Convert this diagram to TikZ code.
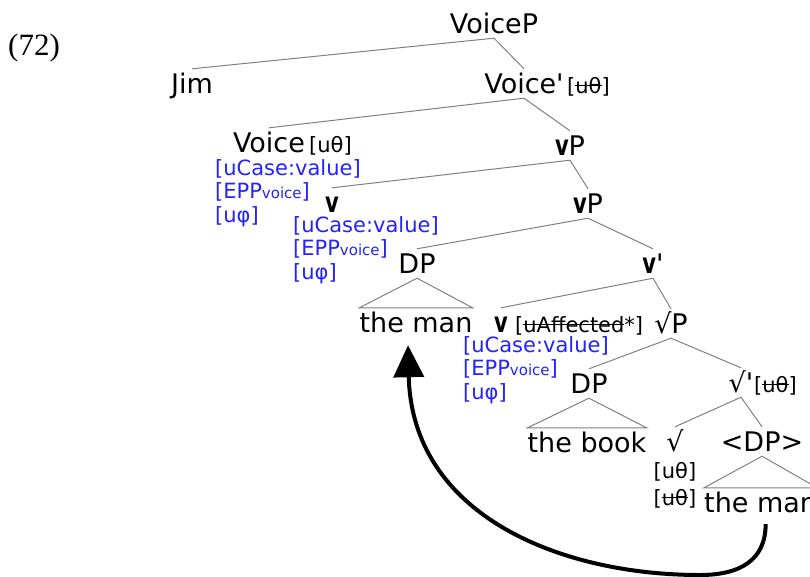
\documentclass[tikz,border=0pt]{standalone}
\usepackage{fontspec}
\usepackage{graphicx}
\setmainfont{DejaVu Sans}
\newfontfamily\exfont{Liberation Serif}
\usetikzlibrary{arrows.meta}

\definecolor{featblue}{RGB}{35,35,250}
\definecolor{branch}{RGB}{128,128,128}

% struck-through (checked) feature
\newsavebox\strikebox
\newcommand\struck[1]{\sbox\strikebox{#1}\rlap{\rule[0.33em]{\wd\strikebox}{0.07em}}\usebox\strikebox}
\newcommand\lbfont{\fontsize{27}{31}\selectfont}
\newcommand\ftfont{\fontsize{21}{25}\selectfont}
\newcommand\eppv{[EPP{\fontsize{15}{17}\selectfont voice}]}
\newcommand\lv{\scalebox{0.78}[1.05]{\bfseries v}}
\newcommand\pr{\textquotesingle}

\tikzset{
  lbl/.style={inner xsep=0pt, inner ysep=5pt, text height=19pt, text depth=0pt,
              anchor=base, font=\lbfont},
  tag/.style={inner sep=0pt, anchor=base west, font=\ftfont},
  feat/.style={tag, text=featblue},
  branch/.style={draw=branch, line width=1pt},
  move/.style={line width=4pt, -{Triangle[length=32pt,width=30pt]}},
}

\begin{document}
\begin{tikzpicture}[x=1pt, y=-1pt]
\useasboundingbox (0,0) rectangle (810,576);

\node[inner sep=0pt, anchor=base west, font=\exfont\fontsize{31}{34}\selectfont] (ex) at (8,55) {(72)};

% labels
\node[lbl] (VoiceP) at (494,33) {VoiceP};
\node[lbl] (Jim) at (192,93) {Jim};
\node[lbl] (Voicebar) at (524,93) {Voice\pr};
\node[tag] (Voicebarf) at (567,93) {[\struck{uθ}]};
\node[lbl] (Voice) at (269,152) {Voice};
\node[tag] (Voicef) at (309,152) {[uθ]};
\node[feat] (Vf1) at (215,175) {[uCase:value]};
\node[feat] (Vf2) at (215,198.5) {\eppv};
\node[feat] (Vf3) at (215,222) {[uφ]};

\node[lbl] (vP) at (570,155) {\lv P};
\node[lbl] (va) at (332,212) {\lv};
\node[feat] (vaf1) at (293,232) {[uCase:value]};
\node[feat] (vaf2) at (293,255.5) {\eppv};
\node[feat] (vaf3) at (293,279) {[uφ]};

\node[lbl] (vPb) at (588,213) {\lv P};
\node[lbl] (DPa) at (417,273) {DP};
\node[lbl] (mana) at (416,332) {the man};
\node[lbl] (vbar) at (653,273) {\lv\pr};

\node[lbl] (vb) at (501,332) {\lv};
\node[tag] (vbaff) at (515,332) {[\struck{uAffected}*]};
\node[feat] (vbf1) at (463,352) {[uCase:value]};
\node[feat] (vbf2) at (463,375.5) {\eppv};
\node[feat] (vbf3) at (463,399) {[uφ]};
\node[lbl] (rootP) at (671,333) {√P};

\node[lbl] (DPb) at (589,393) {DP};
\node[lbl] (book) at (587,452) {the book};
\node[lbl] (rootbar) at (741,392) {√\pr};
\node[tag] (rootbarf) at (754,392) {[\struck{uθ}]};

\node[lbl] (root) at (675,451) {√};
\node[tag, anchor=base] (rootf1) at (675,478) {[uθ]};
\node[tag, anchor=base] (rootf2) at (675,505) {[\struck{uθ}]};
\node[lbl] (DPc) at (762,451) {<DP>};
\node[lbl, anchor=base west] (manb) at (704,512) {the man};

% branches
\draw[branch] (VoiceP.south) -- (Jim.north);
\draw[branch] (VoiceP.south) -- (Voicebar.north);
\draw[branch] (Voicebar.south) -- (Voice.north);
\draw[branch] (Voicebar.south) -- (vP.north);
\draw[branch] (vP.south) -- (va.north);
\draw[branch] (vP.south) -- (vPb.north);
\draw[branch] (vPb.south) -- (DPa.north);
\draw[branch] (vPb.south) -- (vbar.north);
\draw[branch] (DPa.south) -- (mana.north west) -- (mana.north east) -- cycle;
\draw[branch] (vbar.south) -- (vb.north);
\draw[branch] (vbar.south) -- (rootP.north);
\draw[branch] (rootP.south) -- (DPb.north);
\draw[branch] (rootP.south) -- (rootbar.north);
\draw[branch] (DPb.south) -- (book.north west) -- (book.north east) -- cycle;
\draw[branch] (rootbar.south) -- (root.north);
\draw[branch] (rootbar.south) -- (DPc.north);
\draw[branch] (DPc.south) -- (manb.north west) -- (manb.north east) -- cycle;

% movement arrow
\coordinate (low) at (700,575);
\draw[move] ([shift={(5,7)}]manb.south)
  .. controls +(0,36) and +(40,0) .. (low)
  .. controls +(-140,0) and ([shift={(-4,178)}]mana.south) .. ([shift={(-8,8)}]mana.south);
\end{tikzpicture}
\end{document}
